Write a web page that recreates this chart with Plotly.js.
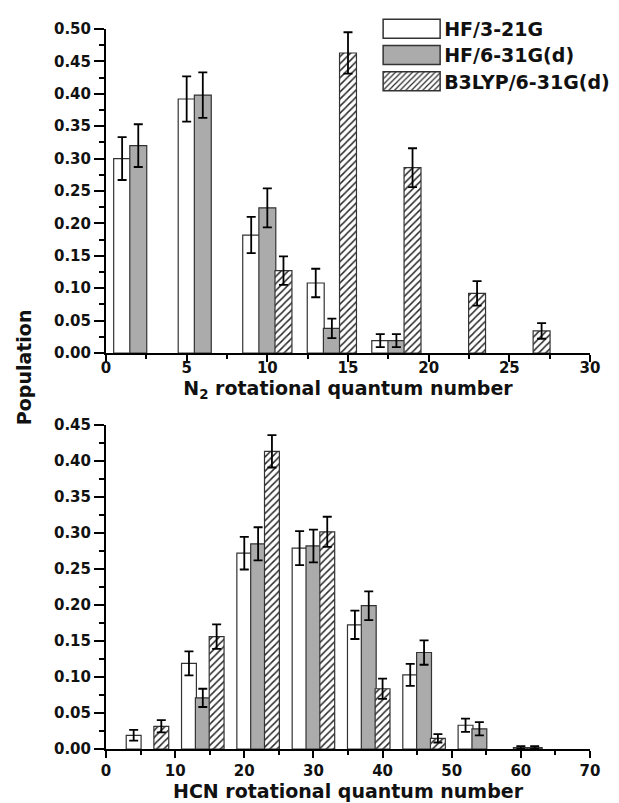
<!DOCTYPE html>
<html>
<head>
<meta charset="utf-8">
<script src="https://cdn.plot.ly/plotly-3.0.1.min.js"></script>
<style>html,body{margin:0;padding:0;background:#fff;}#chart{width:619px;height:803px;}</style>
</head>
<body>
<div id="chart"></div>
<script>
// ---- N2 rotational populations (top panel) ----
var n2_hf321_x = [1, 5, 9, 13, 17];
var n2_hf321_y = [0.300, 0.392, 0.182, 0.108, 0.019];
var n2_hf321_err = [0.033, 0.035, 0.028, 0.022, 0.010];

var n2_hf631_x = [2, 6, 10, 14, 18];
var n2_hf631_y = [0.320, 0.398, 0.224, 0.038, 0.019];
var n2_hf631_err = [0.033, 0.035, 0.030, 0.015, 0.010];

var n2_b3_x = [11, 15, 19, 23, 27];
var n2_b3_y = [0.127, 0.463, 0.286, 0.092, 0.034];
var n2_b3_err = [0.022, 0.032, 0.030, 0.019, 0.012];

// ---- HCN rotational populations (bottom panel) ----
var hcn_hf321_x = [4, 12, 20, 28, 36, 44, 52, 60];
var hcn_hf321_y = [0.019, 0.119, 0.272, 0.279, 0.1725, 0.103, 0.033, 0.002];
var hcn_hf321_err = [0.0075, 0.0167, 0.0227, 0.0236, 0.0197, 0.0153, 0.0093, 0.002];

var hcn_hf631_x = [14, 22, 30, 38, 46, 54, 62];
var hcn_hf631_y = [0.071, 0.285, 0.282, 0.199, 0.134, 0.028, 0.002];
var hcn_hf631_err = [0.0127, 0.023, 0.0227, 0.020, 0.017, 0.0092, 0.002];

var hcn_b3_x = [8, 16, 24, 32, 40, 48];
var hcn_b3_y = [0.0315, 0.156, 0.4135, 0.3016, 0.0837, 0.0148];
var hcn_b3_err = [0.0085, 0.017, 0.0225, 0.021, 0.014, 0.0058];

var seriesNames = ['HF/3-21G', 'HF/6-31G(d)', 'B3LYP/6-31G(d)'];

// ---- styles ----
var FONT = 'DejaVu Sans, Liberation Sans, Arial, sans-serif';
var outline = {color: '#333333', width: 1.2};
var styleWhite = {color: '#ffffff', line: outline};
var styleGray = {color: '#ababab', line: outline};
var styleHatch = {color: '#ffffff', line: outline,
  pattern: {shape: '/', size: 5, solidity: 0.3, fgcolor: '#2a2a2a', bgcolor: '#ffffff'}};
function errStyle(arr) {
  return {type: 'data', array: arr, visible: true, color: '#000000', thickness: 1.8, width: 4.5};
}
function barTrace(name, x, y, err, marker, xa, ya, w, showLegend) {
  return {type: 'bar', name: name, x: x, y: y, width: w, marker: marker,
    error_y: errStyle(err), xaxis: xa, yaxis: ya, showlegend: showLegend};
}

var data = [
  barTrace(seriesNames[0], n2_hf321_x, n2_hf321_y, n2_hf321_err, styleWhite, 'x', 'y', 1.05, true),
  barTrace(seriesNames[1], n2_hf631_x, n2_hf631_y, n2_hf631_err, styleGray, 'x', 'y', 1.05, true),
  barTrace(seriesNames[2], n2_b3_x, n2_b3_y, n2_b3_err, styleHatch, 'x', 'y', 1.05, true),
  barTrace(seriesNames[0], hcn_hf321_x, hcn_hf321_y, hcn_hf321_err, styleWhite, 'x2', 'y2', 2.15, false),
  barTrace(seriesNames[1], hcn_hf631_x, hcn_hf631_y, hcn_hf631_err, styleGray, 'x2', 'y2', 2.15, false),
  barTrace(seriesNames[2], hcn_b3_x, hcn_b3_y, hcn_b3_err, styleHatch, 'x2', 'y2', 2.15, false)
];

var tickFont = {family: FONT, size: 15, color: '#111111', weight: 'bold'};
var titleFont = {family: FONT, size: 19, color: '#111111', weight: 'bold'};

function xAxis(range, dtick, minor, anchor, title, labelStandoff, titleStandoff) {
  return {range: range, dtick: dtick, tick0: 0, anchor: anchor, domain: [0, 1],
    showline: true, linecolor: '#000', linewidth: 2, mirror: false,
    ticks: 'outside', ticklen: 7, tickwidth: 2, tickcolor: '#000',
    ticklabelstandoff: labelStandoff,
    minor: {dtick: minor, ticks: 'outside', ticklen: 4, tickwidth: 2, tickcolor: '#000'},
    showgrid: false, zeroline: false, tickfont: tickFont,
    title: {text: title, font: titleFont, standoff: titleStandoff}, fixedrange: true};
}
function yAxis(range, domain, anchor) {
  return {range: range, domain: domain, anchor: anchor, dtick: 0.05, tick0: 0, tickformat: '.2f',
    showline: true, linecolor: '#000', linewidth: 2,
    ticks: 'outside', ticklen: 10, tickwidth: 2, tickcolor: '#000',
    minor: {dtick: 0.025, ticks: 'outside', ticklen: 5, tickwidth: 2, tickcolor: '#000'},
    showgrid: false, zeroline: false, tickfont: tickFont, fixedrange: true};
}

var layout = {
  width: 619, height: 803,
  margin: {l: 106, r: 29, t: 29, b: 54, autoexpand: false},
  paper_bgcolor: '#ffffff', plot_bgcolor: 'rgba(0,0,0,0)',
  font: {family: FONT, color: '#111111', weight: 'bold'},
  barmode: 'overlay',
  showlegend: true,
  xaxis: xAxis([0, 30], 5, 2.5, 'y', 'N<sub>2</sub> rotational quantum number', -7, 0),
  yaxis: yAxis([0, 0.5], [0.55, 1], 'x'),
  xaxis2: xAxis([0, 70], 10, 5, 'y2', 'HCN rotational quantum number', 0, 2),
  yaxis2: yAxis([0, 0.45], [0, 0.45], 'x2'),
  legend: {x: 0.554, y: 1.025, xanchor: 'left', yanchor: 'top', bgcolor: 'rgba(0,0,0,0)',
    font: {family: FONT, size: 19, color: '#111111', weight: 'bold'},
    itemwidth: 60, tracegroupgap: 0, traceorder: 'normal'},
  annotations: [{text: 'Population', xref: 'paper', yref: 'paper', x: -0.169, y: 0.5306,
    xanchor: 'center', yanchor: 'middle', textangle: -90, showarrow: false,
    font: titleFont}]
};

function fixLegend(gd) {
  gd.querySelectorAll('.legend [clip-path]').forEach(function (e) { e.removeAttribute('clip-path'); });
  var items = gd.querySelectorAll('.legend g.traces');
  items.forEach(function (it, i) {
    var tr = it.getAttribute('transform') || '';
    var m = /translate\(\s*([-\d.e]+)[\s,]+([-\d.e]+)\s*\)/.exec(tr);
    if (m) {
      it.setAttribute('transform', 'translate(' + m[1] + ',' + (parseFloat(m[2]) - 1 - i * 1.5) + ')');
    }
    var path = it.querySelector('.legendpoints path');
    var txt = it.querySelector('text.legendtext');
    if (!path || !txt) return;
    var tx = parseFloat(txt.getAttribute('x'));
    var pm = path.getCTM(), im = it.getCTM();
    var ox = pm.e - im.e, oy = pm.f - im.f;
    var x1 = tx - 4 - ox, x0 = x1 - 57;
    path.setAttribute('d', 'M' + x0 + ',' + (-9.5 - oy) + 'H' + x1 + 'V' + (9.5 - oy) + 'H' + x0 + 'Z');
    path.style.strokeWidth = '1.5px';
    path.style.stroke = '#333333';
  });
}

Plotly.newPlot('chart', data, layout, {staticPlot: true, displayModeBar: false}).then(fixLegend);
</script>
</body>
</html>
